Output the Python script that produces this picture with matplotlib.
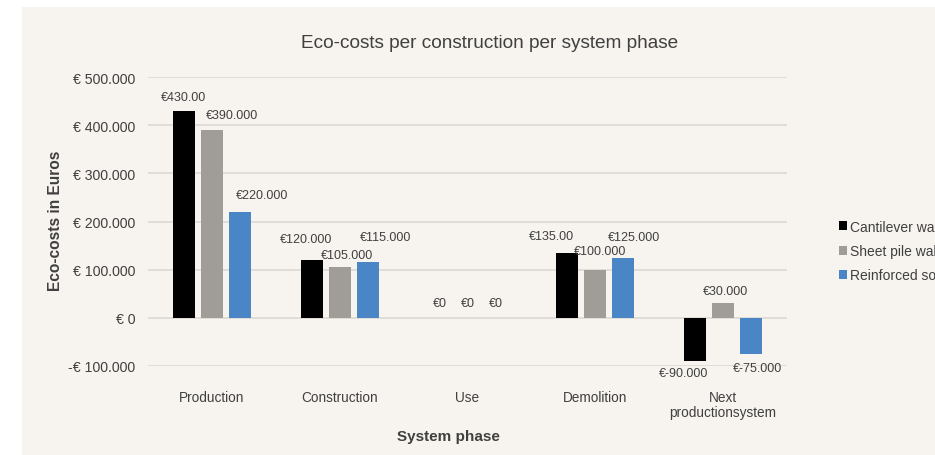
import numpy as np
import matplotlib
matplotlib.use("Agg")
import matplotlib.pyplot as plt
from matplotlib.patches import Rectangle
from matplotlib.ticker import FuncFormatter

plt.rcParams["font.family"] = ["Liberation Sans", "DejaVu Sans"]

phases = ["Production", "Construction", "Use", "Demolition", "Next\nproductionsystem"]
series_names = ["Cantilever wall", "Sheet pile wall", "Reinforced soil"]
cantilever = [430000, 120000, 0, 135000, -90000]
sheet_pile = [390000, 105000, 0, 100000, 30000]
reinforced = [220000, 115000, 0, 125000, -75000]
cantilever_labels = ["€430.00", "€120.000", "€0", "€135.00", "€-90.000"]
sheet_pile_labels = ["€390.000", "€105.000", "€0", "€100.000", "€30.000"]
reinforced_labels = ["€220.000", "€115.000", "€0", "€125.000", "€-75.000"]
y_ticks = [-100000, 0, 100000, 200000, 300000, 400000, 500000]

colors = ["#000000", "#a09c98", "#4a86c6"]
# label offsets in pixels from bar end (dx, dy)
offsets = [
    [(0, 14), (-6, 21), (0, 15), (-16, 17), (-11, -12)],
    [(20, 15), (7, 12), (0, 15), (5, 19), (2, 12)],
    [(22, 17), (18, 25), (0, 15), (11, 21), (6, -14)],
]

W, H = 935, 456
fig = plt.figure(figsize=(W / 100, H / 100), dpi=100, facecolor="white")
fig.patches.append(Rectangle((22 / W, 0), 1 - 22 / W, (H - 8) / H,
                             transform=fig.transFigure, facecolor="#f7f3ee",
                             edgecolor="none", zorder=-10))

ax = fig.add_axes([148 / W, (H - 367) / H, 639 / W, (367 - 78) / H])
ax.set_facecolor("none")

x = np.arange(len(phases))
width = 0.172
pitch = 0.22
text_col = "#404040"
for i, (vals, labs) in enumerate(zip([cantilever, sheet_pile, reinforced],
                                      [cantilever_labels, sheet_pile_labels, reinforced_labels])):
    xs = x + (i - 1) * pitch
    ax.bar(xs, vals, width=width, color=colors[i], label=series_names[i], zorder=3)
    for xi, v, lab, (dx, dy) in zip(xs, vals, labs, offsets[i]):
        ax.annotate(lab, xy=(xi, v), xytext=(dx, dy), textcoords="offset pixels",
                    ha="center", va="center", fontsize=9, color=text_col)

ax.set_xlim(-0.5, len(phases) - 0.5)
ax.set_ylim(-100000, 500000)
ax.set_yticks(y_ticks)


def euro(v, pos):
    if v == 0:
        return "€ 0"
    s = f"{abs(v):,.0f}".replace(",", ".")
    return f"-€ {s}" if v < 0 else f"€ {s}"


ax.yaxis.set_major_formatter(FuncFormatter(euro))
ax.grid(axis="y", color="#dcd9d5", lw=1.2, zorder=0)
for sp in ax.spines.values():
    sp.set_visible(False)
ax.tick_params(axis="y", length=0, pad=9, labelsize=10.2, labelcolor=text_col)
ax.set_xticks(x)
ax.set_xticklabels(phases, linespacing=1.15)
ax.tick_params(axis="x", length=0, pad=17, labelsize=9.8, labelcolor=text_col)

ax.set_xlabel("System phase", fontsize=11, fontweight="bold", color=text_col)
ax.xaxis.set_label_coords((448 - 148) / 639, -(430 - 367) / (367 - 78))
ax.set_ylabel("Eco-costs in Euros", fontsize=11.2, fontweight="bold", color=text_col)
ax.yaxis.set_label_coords(-(148 - 63) / 639, (367 - 221) / (367 - 78))
fig.text(490 / W, 1 - 44 / H, "Eco-costs per construction per system phase",
         ha="center", va="center", fontsize=13.7, color=text_col)

# legend runs off the right edge, as in the source image
ax.legend(loc="center left", bbox_to_anchor=(839 / W, 1 - 252 / H),
          bbox_transform=fig.transFigure, frameon=False, fontsize=10,
          borderpad=0, borderaxespad=0,
          handlelength=0.6, handleheight=0.6, handletextpad=0.2,
          labelspacing=0.75, labelcolor=text_col)

fig.savefig("out.png", dpi=100, facecolor="white")
